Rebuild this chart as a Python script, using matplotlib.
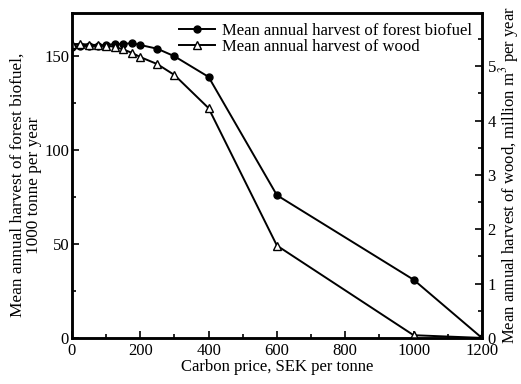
import matplotlib
matplotlib.use('Agg')
import matplotlib.pyplot as plt
from matplotlib.ticker import MultipleLocator

plt.rcParams['font.family'] = ['Liberation Serif', 'DejaVu Serif']
plt.rcParams['mathtext.fontset'] = 'stix'

# carbon price, SEK per tonne
price = [0, 25, 50, 75, 100, 125, 150, 175, 200, 250, 300, 400, 600, 1000, 1200]
# forest biofuel, 1000 tonne per year
biofuel = [155, 155.5, 155.5, 155.5, 156, 156.5, 156.5, 157, 156, 154, 150, 139, 76, 31, 0]
# wood, million m3 per year
wood = [5.41, 5.41, 5.40, 5.39, 5.38, 5.36, 5.31, 5.25, 5.17, 5.04, 4.84, 4.23, 1.70, 0.05, 0]

fig = plt.figure(figsize=(5.21, 3.84), dpi=100)
ax = fig.add_axes([0.138, 0.12, 0.787, 0.846])
ax2 = ax.twinx()

l1, = ax.plot(price, biofuel, '-o', color='black', lw=1.4, ms=5,
              label='Mean annual harvest of forest biofuel')
l2, = ax2.plot(price, wood, '-^', color='black', lw=1.4, ms=5.5,
               mfc='white', mew=1.0, label='Mean annual harvest of wood')

ax.set_xlim(0, 1200)
ax.set_ylim(0, 173)
ax2.set_ylim(0, 5.98)

ax.xaxis.set_major_locator(MultipleLocator(200))
ax.xaxis.set_minor_locator(MultipleLocator(100))
ax.yaxis.set_major_locator(MultipleLocator(50))
ax.yaxis.set_minor_locator(MultipleLocator(25))
ax2.yaxis.set_major_locator(MultipleLocator(1))
ax2.yaxis.set_minor_locator(MultipleLocator(0.5))

for a in (ax, ax2):
    a.tick_params(which='both', direction='in', labelsize=12, width=1.2, pad=2)
    a.tick_params(which='major', length=5)
    a.tick_params(which='minor', length=3)
    for s in a.spines.values():
        s.set_linewidth(1.8)
ax.tick_params(axis='x', pad=3.5)
ax2.tick_params(axis='y', pad=4)

ax.set_xlabel('Carbon price, SEK per tonne', fontsize=12, labelpad=0)
ax.set_ylabel('Mean annual harvest of forest biofuel,\n1000 tonne per year',
              fontsize=12.4, linespacing=1.0)
ax.yaxis.set_label_coords(-0.074, 0.47)
ax2.set_ylabel('Mean annual harvest of wood, million m$^3$ per year',
               fontsize=12, labelpad=1)

ax.legend(handles=[l1, l2], loc='upper right', frameon=False, fontsize=12,
          handlelength=2.2, borderaxespad=0.2, labelspacing=0.0,
          handletextpad=0.4)

fig.savefig('out.png', dpi=100)
